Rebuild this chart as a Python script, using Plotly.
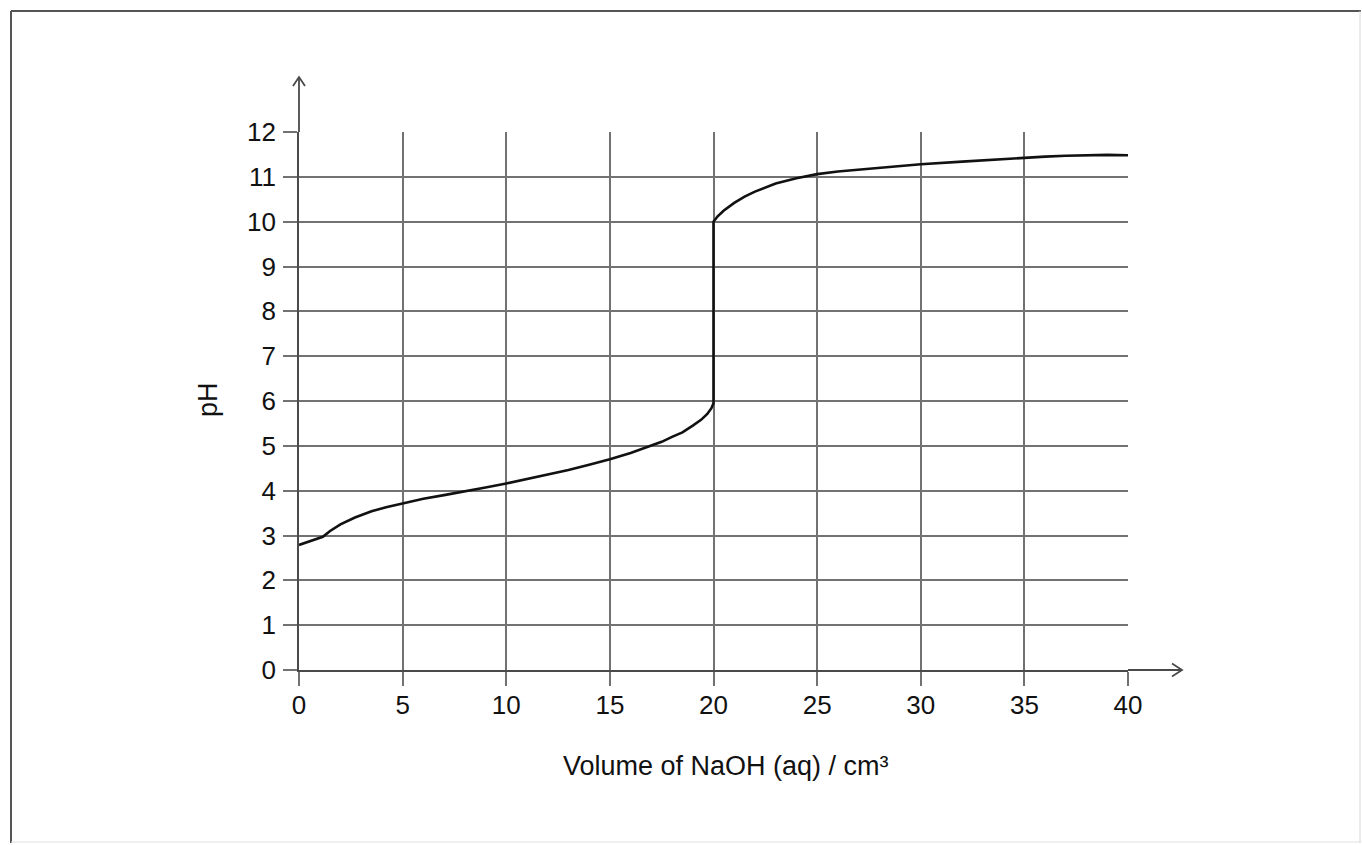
import plotly.graph_objects as go

# ---- data ----
volume_cm3 = [0, 0.6, 1.15, 1.5, 2.0, 2.7, 3.5, 4.2, 5, 6, 7, 8, 9, 10, 11, 12, 13, 14, 15,
              16, 17, 17.5, 18, 18.5, 19, 19.4, 19.7, 19.9, 20, 20,
              20.2, 20.5, 21, 21.5, 22, 23, 24, 25, 26, 27, 28, 30, 32, 34, 35, 36, 37, 38, 39, 40]
ph_values = [2.79, 2.88, 2.97, 3.10, 3.25, 3.40, 3.54, 3.63, 3.72, 3.82, 3.90, 3.98, 4.07, 4.16,
             4.26, 4.36, 4.46, 4.58, 4.70, 4.84, 5.00, 5.09, 5.20, 5.30, 5.45, 5.58, 5.71, 5.84,
             5.95, 10.0,
             10.12, 10.25, 10.42, 10.56, 10.67, 10.85, 10.97, 11.06, 11.12, 11.16, 11.20, 11.28,
             11.34, 11.40, 11.43, 11.45, 11.47, 11.48, 11.49, 11.48]
x_ticks = [0, 5, 10, 15, 20, 25, 30, 35, 40]
y_ticks = list(range(0, 13))
x_title = "Volume of NaOH (aq) / cm³"
y_title = "pH"

W, H = 1362, 845
L, R, T, B = 299, 1128, 132, 670   # plot area in pixels


def px(x):
    return (x - L) / (R - L)


def py(y):
    return (B - y) / (B - T)


FONT = "Liberation Sans, Arial, sans-serif"
GRID = "#727272"
AX = "#4a4a4a"

fig = go.Figure()
fig.add_trace(go.Scatter(x=volume_cm3, y=ph_values, mode="lines",
                         line=dict(color="#111111", width=2.6), hoverinfo="skip",
                         showlegend=False))

axis_common = dict(showgrid=True, gridcolor=GRID, gridwidth=1.5, zeroline=False,
                   showline=True, linecolor=AX, linewidth=1.8,
                   ticks="outside", ticklen=14, tickwidth=1.5, tickcolor=GRID,
                   tickfont=dict(family=FONT, size=26, color="#111111"))

fig.update_xaxes(range=[0, 40], tickvals=x_ticks, ticktext=[str(v) for v in x_ticks],
                 ticklabelstandoff=-3, **axis_common)
fig.update_yaxes(range=[0, 12], tickvals=y_ticks, ticktext=[str(v) for v in y_ticks],
                 ticklabelstandoff=2, **axis_common)

shapes = []
# axis extensions and arrowheads
shapes.append(dict(type="line", xref="paper", yref="paper", x0=px(299), y0=py(132), x1=px(299), y1=py(77),
                   line=dict(color=AX, width=1.8)))
shapes.append(dict(type="path", xref="paper", yref="paper",
                   path=f"M {px(293)} {py(86)} L {px(299)} {py(77)} L {px(305)} {py(86)}",
                   line=dict(color=AX, width=1.8)))
shapes.append(dict(type="line", xref="paper", yref="paper", x0=px(1128), y0=py(670), x1=px(1182), y1=py(670),
                   line=dict(color=AX, width=1.8)))
shapes.append(dict(type="path", xref="paper", yref="paper",
                   path=f"M {px(1172)} {py(663.5)} L {px(1182)} {py(670)} L {px(1172)} {py(676.5)}",
                   line=dict(color=AX, width=1.8)))
# outer frame
shapes.append(dict(type="line", xref="paper", yref="paper", x0=px(11), y0=py(11), x1=px(11), y1=py(843),
                   line=dict(color="#555555", width=2)))
shapes.append(dict(type="line", xref="paper", yref="paper", x0=px(11), y0=py(11), x1=px(1361), y1=py(11),
                   line=dict(color="#555555", width=2)))
shapes.append(dict(type="line", xref="paper", yref="paper", x0=px(1360), y0=py(11), x1=px(1360), y1=py(843),
                   line=dict(color="#d8d8d8", width=1)))
shapes.append(dict(type="line", xref="paper", yref="paper", x0=px(11), y0=py(842), x1=px(1361), y1=py(842),
                   line=dict(color="#e0e0e0", width=1)))

annotations = [
    dict(text=x_title, xref="paper", yref="paper", x=px(726), y=py(766), showarrow=False,
         xanchor="center", yanchor="middle", font=dict(family=FONT, size=27, color="#111111")),
    dict(text=y_title, xref="paper", yref="paper", x=px(208), y=py(400), showarrow=False,
         textangle=-90, xanchor="center", yanchor="middle",
         font=dict(family=FONT, size=27, color="#111111")),
]

fig.update_layout(width=W, height=H, margin=dict(l=L, r=W - R, t=T, b=H - B, pad=0),
                  plot_bgcolor="white", paper_bgcolor="white",
                  shapes=shapes, annotations=annotations)

fig.write_html("out.html", config={"displayModeBar": False},
               post_script="document.body.style.margin='0';document.body.style.overflow='hidden';")
